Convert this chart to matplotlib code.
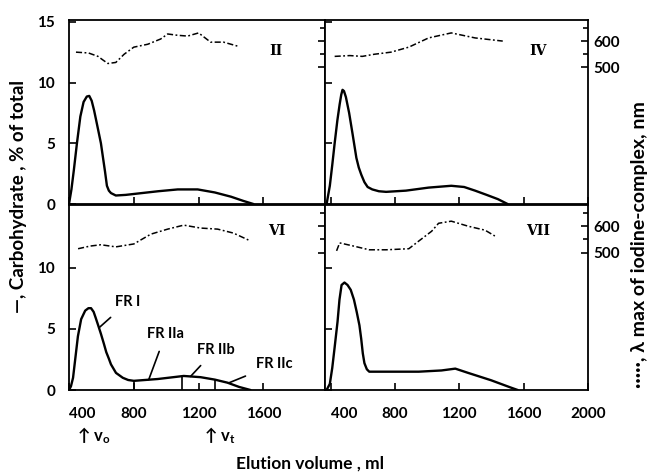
import matplotlib
matplotlib.use('Agg')
import matplotlib.pyplot as plt
from matplotlib.ticker import FixedLocator
import numpy as np

plt.rcParams['font.family'] = ['Lato', 'DejaVu Sans']
plt.rcParams['font.weight'] = 'bold'
plt.rcParams['mathtext.default'] = 'regular'

# ---------------- data ----------------
# Panel II (top left): carbohydrate, % of total
ii_vol = [400, 415, 430, 449, 470, 490, 510, 525, 540, 555, 566, 580, 597, 610, 622, 634, 646, 659, 689, 750, 850, 950, 1071, 1194, 1300, 1400, 1477, 1538]
ii_carb = [0.0, 1.2, 2.8, 5.0, 7.2, 8.4, 8.85, 8.9, 8.5, 7.7, 7.0, 6.1, 5.0, 3.8, 2.7, 1.5, 1.1, 0.9, 0.7, 0.75, 0.9, 1.05, 1.2, 1.2, 0.95, 0.6, 0.25, 0.0]
# Panel II: lambda max, nm
ii_lvol = [443, 520, 579, 610, 640, 689, 740, 800, 886, 966, 1009, 1070, 1132, 1200, 1274, 1354, 1440]
ii_lam = [558, 555, 542, 528, 515, 519, 550, 577, 588, 608, 627, 622, 619, 631, 596, 596, 581]

# Panel IV (top right)
iv_vol = [375, 395, 410, 425, 442, 456, 466, 474, 483, 495, 515, 536, 560, 575, 591, 610, 630, 659, 700, 745, 868, 1009, 1150, 1230, 1298, 1370, 1440, 1500]
iv_carb = [0.0, 1.5, 3.2, 5.0, 6.9, 8.2, 9.0, 9.4, 9.3, 8.8, 7.5, 5.8, 3.8, 3.0, 2.4, 1.8, 1.4, 1.2, 1.05, 1.0, 1.1, 1.35, 1.5, 1.4, 1.1, 0.75, 0.4, 0.0]
iv_lvol = [425, 520, 597, 671, 775, 886, 1009, 1150, 1298, 1470]
iv_lam = [542, 545, 542, 550, 558, 577, 612, 631, 612, 600]

# Panel VI (bottom left)
vi_vol = [400, 412, 425, 440, 455, 475, 500, 520, 536, 552, 565, 580, 597, 615, 630, 645, 659, 690, 732, 765, 800, 948, 1108, 1212, 1300, 1378, 1450, 1520]
vi_carb = [0.0, 0.3, 1.0, 2.7, 4.4, 5.8, 6.5, 6.7, 6.7, 6.4, 5.9, 5.3, 4.6, 3.8, 3.1, 2.6, 2.1, 1.4, 1.0, 0.82, 0.75, 0.9, 1.15, 1.05, 0.85, 0.6, 0.25, 0.0]
vi_lvol = [456, 530, 597, 689, 800, 905, 1009, 1108, 1212, 1317, 1415, 1507]
vi_lam = [515, 525, 530, 522, 533, 570, 589, 604, 593, 589, 574, 548]
# fraction boundaries, ml
fr_bounds = [800, 1100, 1300]
fr_labels = ['FR I', 'FR IIa', 'FR IIb', 'FR IIc']
fr_point_vol = [585, 892, 1150, 1384]

# Panel VII (bottom right)
vii_vol = [375, 395, 410, 425, 443, 455, 468, 486, 505, 525, 545, 562, 579, 590, 600, 610, 625, 640, 948, 1089, 1175, 1255, 1397, 1520, 1563]
vii_carb = [0.0, 0.5, 1.8, 3.5, 5.6, 7.4, 8.6, 8.8, 8.6, 8.2, 7.4, 6.4, 5.3, 4.2, 3.0, 2.2, 1.7, 1.5, 1.5, 1.6, 1.75, 1.4, 0.8, 0.2, 0.0]
vii_lvol = [437, 456, 536, 640, 745, 886, 948, 1028, 1071, 1150, 1255, 1360, 1421]
vii_lam = [507, 537, 526, 511, 511, 515, 544, 581, 611, 619, 600, 585, 563]

panel_names = ['II', 'IV', 'VI', 'VII']
v0_vol, vt_vol = 544, 1320

# ---------------- figure ----------------
W, H = 653, 474
fig = plt.figure(figsize=(W / 100, H / 100), dpi=100)


def ax_at(x0, y0, x1, y1):
    return fig.add_axes([x0 / W, 1 - y1 / H, (x1 - x0) / W, (y1 - y0) / H])


LW = 1.7
TICKFS = 11
LAM_LIM = (-18, 680)

specs = [
    (ax_at(69, 20, 325, 204), ii_vol, ii_carb, ii_lvol, ii_lam, panel_names[0], 'TL'),
    (ax_at(325, 20, 588, 204), iv_vol, iv_carb, iv_lvol, iv_lam, panel_names[1], 'TR'),
    (ax_at(69, 205, 325, 390), vi_vol, vi_carb, vi_lvol, vi_lam, panel_names[2], 'BL'),
    (ax_at(325, 205, 588, 390), vii_vol, vii_carb, vii_lvol, vii_lam, panel_names[3], 'BR'),
]

axes = {}
for ax, vol, carb, lvol, lam, name, pos in specs:
    axes[pos] = ax
    ax.plot(vol, carb, color='black', lw=LW, solid_capstyle='round', solid_joinstyle='round', zorder=3)
    ax.set_ylim(0, 15.15)
    if pos in ('TL', 'BL'):
        ax.set_xlim(400, 1980)
        ax.set_xticks([400, 800, 1200, 1600])
    else:
        ax.set_xlim(365, 2000)
        ax.set_xticks([400, 800, 1200, 1600, 2000])
    if pos in ('TL', 'TR'):
        ax.set_yticks([0, 5, 10, 15])
    else:
        ax.set_yticks([0, 5, 10])
    ax.tick_params(axis='x', direction='in', length=5, width=1.2, labelsize=TICKFS, pad=12)
    ax.tick_params(axis='y', direction='in', length=5, width=1.2, labelsize=TICKFS, pad=10)
    if pos in ('TL', 'TR'):
        ax.tick_params(labelbottom=False)
    if pos in ('TR', 'BR'):
        ax.tick_params(labelleft=False)
    for s in ax.spines.values():
        s.set_linewidth(1.3)

    tw = ax.twinx()
    tw.plot(lvol, lam, color='black', lw=1.1, linestyle=(0, (4, 1.6, 1.2, 1.6)), zorder=2)
    tw.set_ylim(*LAM_LIM)
    tw.set_yticks([500, 600])
    tw.yaxis.set_minor_locator(FixedLocator([550, 650]))
    tw.tick_params(which='major', direction='in', length=5, width=1.2, labelsize=TICKFS, pad=4)
    tw.tick_params(which='minor', direction='in', length=3.5, width=1.2)
    if pos in ('TL', 'BL'):
        tw.tick_params(labelright=False)
    for s in tw.spines.values():
        s.set_visible(False)

    ax.text(0.81, 0.83 if pos[0] == 'T' else 0.86, name, transform=ax.transAxes,
            fontsize=10, fontweight='bold', family=['DejaVu Serif'], ha='center', va='center')

# left-aligned first x tick label so "400" sits right of the corner
for pos in ('BL', 'BR'):
    labs = axes[pos].get_xticklabels()
    labs[0].set_horizontalalignment('left')

# fraction boundaries and labels on VI
axv = axes['BL']
for b in fr_bounds:
    axv.vlines(b, 0, np.interp(b, vi_vol, vi_carb), color='black', lw=1.2)
text_pos = [(763, 7.2), (997, 4.6), (1304, 3.3), (1667, 2.1)]
for lab, pv, tp in zip(fr_labels, fr_point_vol, text_pos):
    y = np.interp(pv, vi_vol, vi_carb)
    axv.annotate(lab, xy=(pv, y), xytext=tp, ha='center', va='center', fontsize=10.5,
                 arrowprops=dict(arrowstyle='-', lw=1.2, color='black', shrinkA=6, shrinkB=0))

# void / total volume markers
axv.text(v0_vol, -0.19, r'$\uparrow v_o$', transform=axv.get_xaxis_transform(),
         ha='center', va='top', fontsize=12)
axv.text(vt_vol, -0.19, r'$\uparrow v_t$', transform=axv.get_xaxis_transform(),
         ha='center', va='top', fontsize=12)

fig.text(310 / W, 1 - 464 / H, 'Elution volume , ml', ha='center', va='center', fontsize=12.5)
fig.text(19 / W, 1 - 197 / H, '—, Carbohydrate , % of total', rotation=90,
         ha='center', va='center', fontsize=13.5)
fig.text(640 / W, 1 - 245 / H, '·····, λ max of iodine-complex, nm', rotation=90,
         ha='center', va='center', fontsize=14)

fig.savefig('out.png', dpi=100)
